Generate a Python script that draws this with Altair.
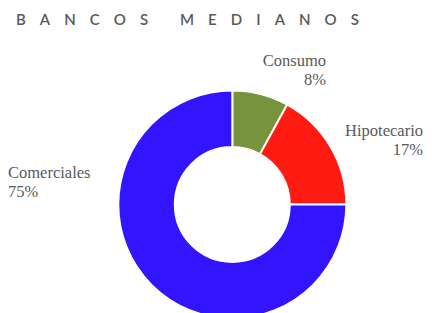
import altair as alt
import pandas as pd

title_text = "BANCOS MEDIANOS"
categories = ["Consumo", "Hipotecario", "Comerciales"]
shares = [8, 17, 75]
colors = ["#77933C", "#FF1A12", "#3314FF"]

df = pd.DataFrame({
    "cat": categories,
    "share": shares,
    "idx": list(range(len(categories))),
})
df["label"] = [f"{c}\n{s}%" for c, s in zip(categories, shares)]

# letter-spaced title
sp = "\u2003\u200a\u2009"
spaced = (sp + "\u00a0" + sp).join(sp.join(list(w)) for w in title_text.split(" "))

cx, cy = 224.3, 196.5

donut = alt.Chart(df).mark_arc(
    innerRadius=57.5, outerRadius=114, stroke="white", strokeWidth=2
).encode(
    theta=alt.Theta("share:Q", stack=True),
    color=alt.Color("cat:N", scale=alt.Scale(domain=categories, range=colors), legend=None),
    order=alt.Order("idx:Q"),
    x=alt.value(cx),
    y=alt.value(cy),
)

label_pos = {
    "Consumo": ("right", 318, 57.5),
    "Hipotecario": ("right", 415, 127.7),
    "Comerciales": ("left", 0, 169.5),
}
labels = []
for c in categories:
    al, lx, ly = label_pos[c]
    labels.append(
        alt.Chart(df).transform_filter(alt.datum.cat == c)
        .mark_text(align=al, font="Liberation Serif", fontSize=16.5, color="#595959",
                   lineBreak="\n", lineHeight=19.5, baseline="alphabetic")
        .encode(text="label:N", x=alt.value(lx), y=alt.value(ly))
    )

title = alt.Chart(pd.DataFrame({"t": [spaced]})).mark_text(
    align="left", baseline="alphabetic", font="Lato", fontSize=15,
    fontWeight=600, color="#595959"
).encode(text="t:N", x=alt.value(8), y=alt.value(17))

chart = alt.layer(donut, *labels, title).properties(
    width=416, height=305, padding=0, autosize=alt.AutoSizeParams(type="none")
).configure_view(stroke=None)

chart.save("out.html", embed_options={"renderer": "svg", "actions": False})
